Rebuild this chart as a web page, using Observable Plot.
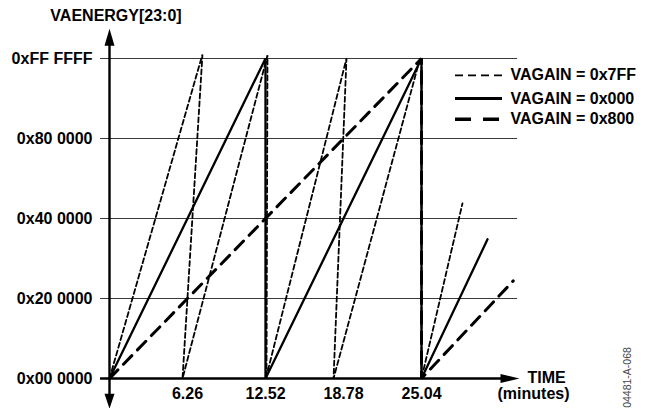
<!DOCTYPE html>
<html>
<head>
<meta charset="utf-8">
<script src="https://cdn.jsdelivr.net/npm/d3@7"></script>
<script src="https://cdn.jsdelivr.net/npm/@observablehq/plot@0.6"></script>
<style>
  html, body { margin: 0; padding: 0; background: #fff; }
  #chart svg { display: block; }
</style>
</head>
<body>
<div id="chart"></div>
<script>
// ---- data ----
const xTicks = [6.26, 12.52, 18.78, 25.04];
const yTicks = [0, 1, 2, 3, 4];
const yTickLabels = ["0x00 0000", "0x20 0000", "0x40 0000", "0x80 0000", "0xFF FFFF"];
const seriesNames = ["VAGAIN = 0x7FF", "VAGAIN = 0x000", "VAGAIN = 0x800"];

// VAGAIN = 0x7FF (thin dashed)
const gain7FF_t = [0, 7.46, 5.86, 12.68, 12.60, 12.55, 19.02, 17.98, 24.92, 25.04, 25.04, 28.33];
const gain7FF_v = [0, 4.05, 0, 4.04, 0, 0, 4.0, 0, 4.0, 4.0, 0, 2.19];
// VAGAIN = 0x000 (solid)
const gain000_t = [0, 12.52, 12.52, 25.04, 25.04, 30.34];
const gain000_v = [0, 4, 0, 4, 0, 1.74];
// VAGAIN = 0x800 (heavy dashed)
const gain800_t = [0, 25.04, 25.04, 32.4];
const gain800_v = [0, 4, 0, 1.22];

// ---- layout (chrome) ----
const gridX = [-0.72, 32.75];
const xAxisX = [-0.72, 31.5];
const yAxisY = [-0.2, 4.17];
const legendX = [27.77, 31.54];
const legendTextX = 32.18;
const legendRowsY = [3.79, 3.5, 3.24];

const toRows = (t, v) => t.map((d, i) => ({t: d, v: v[i]}));
const s7FF = toRows(gain7FF_t, gain7FF_v);
const s000 = toRows(gain000_t, gain000_v);
const s800 = toRows(gain800_t, gain800_v);
const legendRows = seriesNames.map((name, i) => ({name, y: legendRowsY[i]}));

const chart = Plot.plot({
  width: 652,
  height: 408,
  marginLeft: 109,
  marginRight: 231,
  marginTop: 58,
  marginBottom: 30,
  style: {
    fontFamily: "'Liberation Sans', Arial, Helvetica, sans-serif",
    fontSize: "16px",
    fontWeight: "bold",
    background: "white",
    color: "black",
    overflow: "visible"
  },
  x: {domain: [0, 25.04]},
  y: {domain: [0, 4]},
  marks: [
    // grid lines (extend left as tick marks)
    Plot.ruleY(yTicks.slice(1), {x1: gridX[0], x2: gridX[1], stroke: "#3a3a3a", strokeWidth: 1.1}),
    // axes
    Plot.ruleY([0], {x1: xAxisX[0], x2: xAxisX[1], stroke: "black", strokeWidth: 2.4}),
    Plot.ruleX([0], {y1: yAxisY[0], y2: yAxisY[1], stroke: "black", strokeWidth: 2.4}),
    Plot.vector([0], {x: () => xAxisX[1] - 0.12, y: 0, length: 19, rotate: 90, shape: "spike", r: 4.5, anchor: "start", fill: "black", stroke: "none"}),
    Plot.vector([0], {x: 0, y: () => yAxisY[1] - 0.01, length: 17, rotate: 0, shape: "spike", r: 5, anchor: "start", fill: "black", stroke: "none"}),
    Plot.vector([0], {x: 0, y: () => yAxisY[0] + 0.01, length: 15, rotate: 180, shape: "spike", r: 5, anchor: "start", fill: "black", stroke: "none"}),
    // series
    Plot.line(s800, {x: "t", y: "v", stroke: "black", strokeWidth: 3, strokeDasharray: "12,8", strokeLinejoin: "miter"}),
    Plot.line(s000, {x: "t", y: "v", stroke: "black", strokeWidth: 2.3, strokeLinejoin: "miter"}),
    Plot.line(s7FF, {x: "t", y: "v", stroke: "black", strokeWidth: 1.8, strokeDasharray: "5,3", strokeLinejoin: "miter"}),
    // legend
    Plot.ruleY([legendRows[0]], {y: "y", x1: legendX[0], x2: legendX[1], stroke: "black", strokeWidth: 1.8, strokeDasharray: "8,5"}),
    Plot.ruleY([legendRows[1]], {y: "y", x1: legendX[0], x2: legendX[1], stroke: "black", strokeWidth: 3}),
    Plot.ruleY([legendRows[2]], {y: "y", x1: legendX[0], x2: legendX[1], stroke: "black", strokeWidth: 3.4, strokeDasharray: "16,12"}),
    Plot.text(legendRows, {x: () => legendTextX, y: "y", text: "name", textAnchor: "start", lineAnchor: "middle", fill: "black"}),
    // axis titles
    Plot.text(["VAENERGY[23:0]"], {frameAnchor: "top-left", dx: 6.5, dy: -43, textAnchor: "middle", lineAnchor: "middle", text: d => d, fill: "black"}),
    Plot.text(["TIME"], {frameAnchor: "bottom-right", dx: 106, dy: -1, textAnchor: "start", lineAnchor: "middle", text: d => d, fill: "black"}),
    Plot.text(["(minutes)"], {frameAnchor: "bottom-right", dx: 76, dy: 15, textAnchor: "start", lineAnchor: "middle", text: d => d, fill: "black"}),
    Plot.text(["04481-A-068"], {frameAnchor: "bottom-right", dx: 206, dy: -1, rotate: -90, textAnchor: "middle", lineAnchor: "middle", text: d => d, fill: "#444", fontWeight: "normal", fontSize: 10.5}),
    // axes tick labels
    Plot.axisX({ticks: xTicks, tickSize: 0, tickPadding: 9, tickFormat: d => d.toFixed(2), label: null}),
    Plot.axisY({ticks: yTicks, tickSize: 0, tickPadding: 17, tickFormat: d => yTickLabels[yTicks.indexOf(d)], label: null})
  ]
});
document.getElementById("chart").appendChild(chart);
</script>
</body>
</html>
